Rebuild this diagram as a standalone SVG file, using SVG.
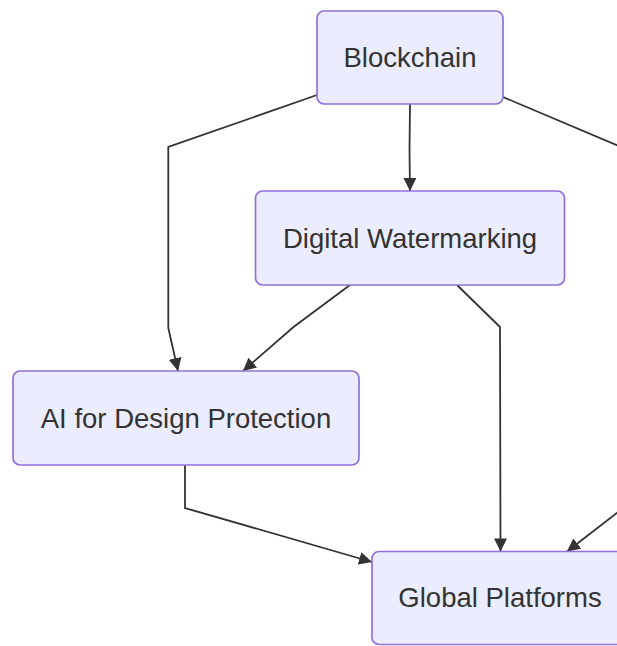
<svg xmlns="http://www.w3.org/2000/svg" width="617" height="646" viewBox="0 0 617 646">
<style>
.node rect{fill:#ECECFF;stroke:#9370DB;stroke-width:1.7}
.node text{font-family:"Liberation Sans",Arial,sans-serif;font-size:27.5px;fill:#333;text-anchor:middle}
.edge{fill:none;stroke:#333;stroke-width:1.8}
</style>
<defs>
<marker id="arrow" viewBox="0 0 10 10" refX="10" refY="5" markerUnits="userSpaceOnUse" markerWidth="13" markerHeight="13" orient="auto">
<path d="M0,0 L10,5 L0,10 z" fill="#333"/>
</marker>
</defs>
<rect width="617" height="646" fill="#ffffff"/>
<g id="connectors">
<polyline class="edge" points="317,95 168.3,147 168.3,328 178,371" marker-end="url(#arrow)"/>
<polyline class="edge" points="410,104 409.5,150 410,191" marker-end="url(#arrow)"/>
<polyline class="edge" points="503,97 640,155"/>
<polyline class="edge" points="350,285 293.5,327 243,371" marker-end="url(#arrow)"/>
<polyline class="edge" points="457,285 500,327 500.5,551.5" marker-end="url(#arrow)"/>
<polyline class="edge" points="185,465 185,508 372,562" marker-end="url(#arrow)"/>
<polyline class="edge" points="640,495 567,551.5" marker-end="url(#arrow)"/>
</g>
<g id="blockchain" class="node">
<rect x="317" y="11" width="186" height="93" rx="7"/>
<text x="410" y="67">Blockchain</text>
</g>
<g id="watermarking" class="node">
<rect x="255.5" y="191" width="309" height="94" rx="7"/>
<text x="410" y="247.5">Digital Watermarking</text>
</g>
<g id="ai" class="node">
<rect x="13" y="371" width="346" height="94" rx="7"/>
<text x="186" y="427.5">AI for Design Protection</text>
</g>
<g id="global" class="node">
<rect x="372" y="551.5" width="256" height="93" rx="7"/>
<text x="500" y="607">Global Platforms</text>
</g>
</svg>
